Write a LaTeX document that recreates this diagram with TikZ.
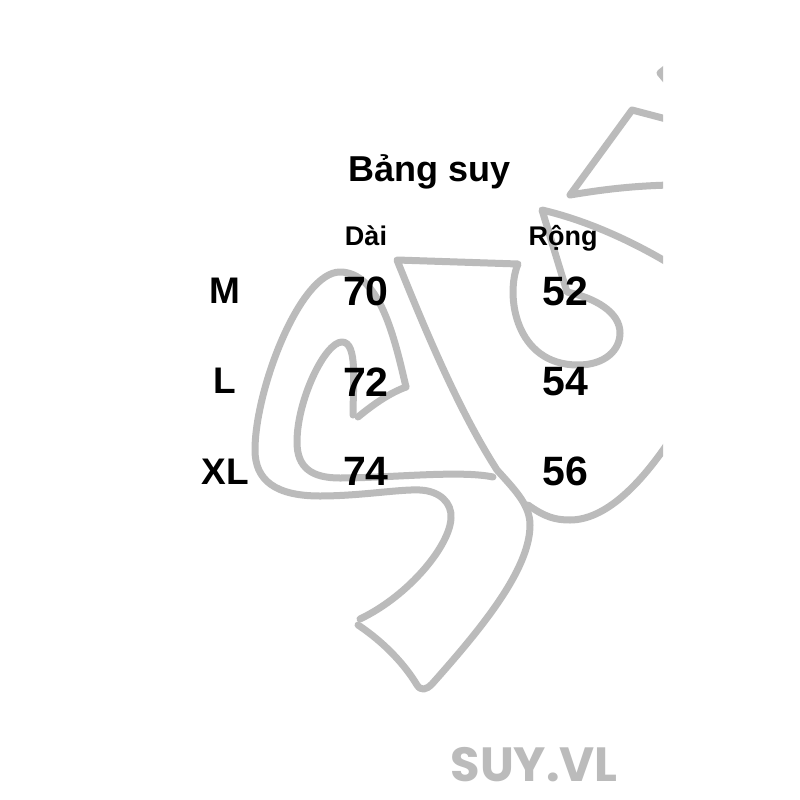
\documentclass[tikz,border=0pt]{standalone}
\usepackage{fontspec}
\setmainfont{Liberation Sans}
\newfontfamily\logofont{Poppins}
\tikzset{
    sketch/.style = {draw = sketchgray, line width = 7pt, line cap = round, line join = round},
    cell/.style = {font = \fontsize{41}{41}\selectfont\bfseries, text = black, inner sep = 0pt},
    size/.style = {font = \fontsize{37}{37}\selectfont\bfseries, text = black, inner sep = 0pt},
    head/.style = {font = \fontsize{27}{27}\selectfont\bfseries, text = black, inner sep = 0pt},
}
\definecolor{sketchgray}{HTML}{BBBBBB}
\begin{document}
\begin{tikzpicture}[x = 1pt, y = -1pt]
    \useasboundingbox (0, 0) rectangle (800, 800);
    \fill [white] (0, 0) rectangle (800, 800);
    % the sketch behind the table
    \begin{scope}
        \clip (0, 0) rectangle (663, 800);
        \draw [sketch]
            (406, 387) .. controls (395, 340) and (380, 272) .. (340, 272)
            .. controls (300, 272) and (255, 390) .. (255, 450)
            .. controls (255, 480) and (275, 496) .. (320, 496)
            .. controls (360, 496) and (400, 489) .. (420, 490)
            .. controls (440, 491) and (452, 503) .. (451, 518)
            .. controls (450, 545) and (410, 595) .. (360, 619)
        ;
        \draw [sketch] (358, 417) .. controls (375, 403) and (390, 393) .. (406, 387);
        \draw [sketch]
            (353, 415) .. controls (353, 385) and (358, 342) .. (342, 342)
            .. controls (325, 342) and (297, 400) .. (297, 442)
            .. controls (297, 468) and (312, 478) .. (340, 478)
            .. controls (390, 478) and (460, 470) .. (493, 477)
        ;
        \draw [sketch]
            (358, 625) .. controls (385, 643) and (405, 665) .. (417, 685)
            .. controls (421, 691) and (426, 690) .. (432, 684)
            .. controls (480, 630) and (530, 570) .. (530, 525)
            .. controls (530, 505) and (515, 490) .. (497, 470)
            .. controls (465, 420) and (435, 355) .. (397, 260)
            -- (518, 264)
            .. controls (505, 295) and (515, 365) .. (578, 365)
            .. controls (605, 365) and (620, 350) .. (620, 333)
            .. controls (620, 312) and (595, 298) .. (567, 292)
            -- (542, 210)
            .. controls (585, 220) and (630, 240) .. (670, 264)
        ;
        \draw [sketch] (528, 505) .. controls (545, 517) and (555, 520) .. (570, 520)
            .. controls (605, 520) and (640, 485) .. (670, 440);
        \draw [sketch] (670, 120) -- (632, 110) -- (570, 195)
            .. controls (600, 190) and (630, 186) .. (670, 185);
        \draw [sketch] (670, 65) -- (660, 73) -- (670, 85);
    \end{scope}
    % title and column heads
    \node [font = \fontsize{36}{36}\selectfont\bfseries, inner sep = 0pt] (title) at (430, 172) {Bảng suy};
    \node [head] (dai) at (366, 236) {Dài};
    \node [head] (rong) at (563, 238) {Rộng};
    % rows
    \node [size] (sizem) at (225, 291) {M};
    \node [size] (sizel) at (225, 381) {L};
    \node [size] (sizexl) at (225, 472) {XL};
    \foreach \rowname/\rowy/\longval/\wideval in {m/291/70/52, l/382/72/54, xl/471/74/56} {
        \node [cell] (long\rowname) at (366, \rowy) {\longval};
        \node [cell] (wide\rowname) at (565, \rowy) {\wideval};
    }
    % watermark
    \node [font = \logofont\bfseries\fontsize{48}{48}\selectfont, text = sketchgray, inner sep = 0pt] (mark) at (534, 765) {SUY.VL};
\end{tikzpicture}
\end{document}
